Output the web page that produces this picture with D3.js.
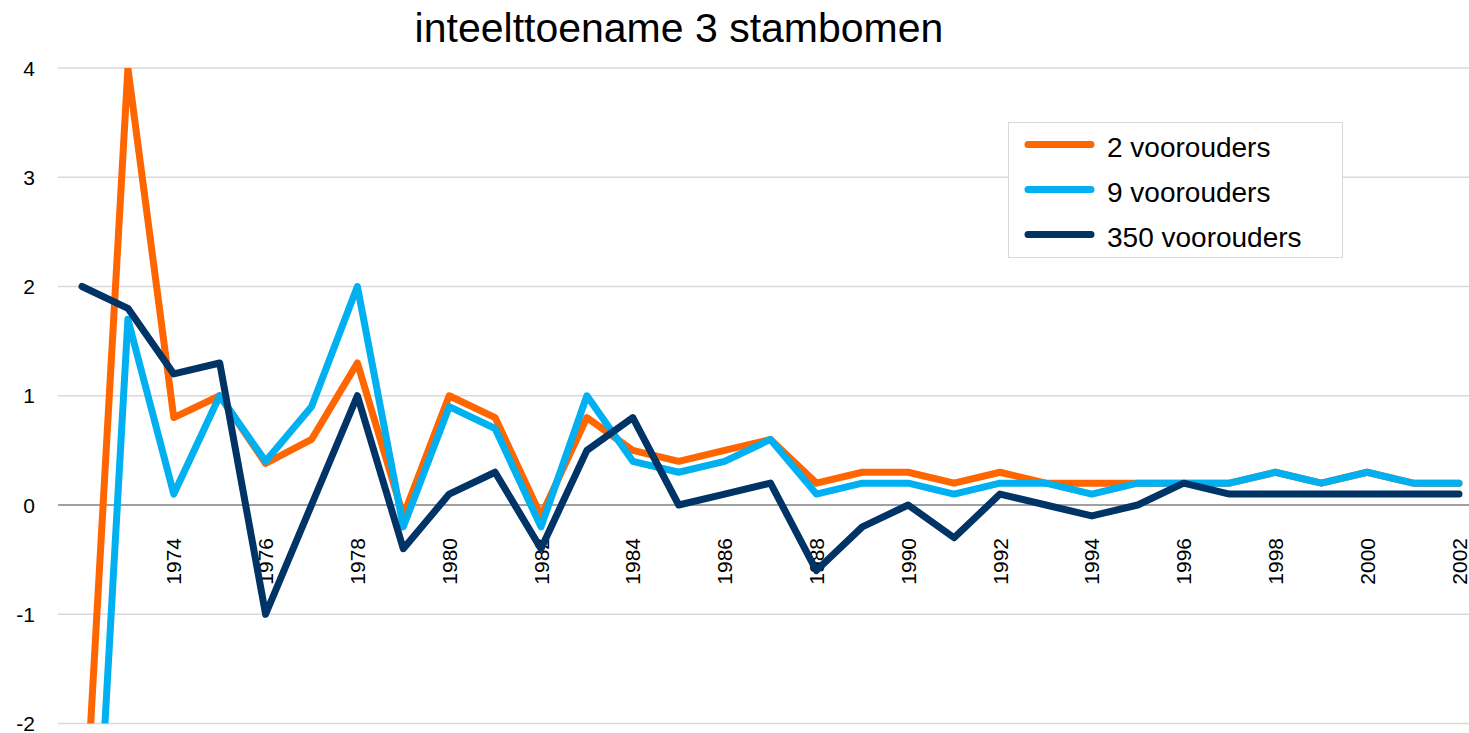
<!DOCTYPE html>
<html>
<head>
<meta charset="utf-8">
<script src="https://cdn.jsdelivr.net/npm/d3@7"></script>
<style>
  body { margin: 0; background: #fff; }
  text { font-family: "Liberation Sans", Arial, sans-serif; fill: #000; }
</style>
</head>
<body>
<div id="chart"></div>
<script>
// years on the category axis
const years = d3.range(1972, 2003).map(String);

// series values
const twoAncestors = [-3.4, 4.0, 0.8, 1.0, 0.38, 0.6, 1.3, -0.1, 1.0, 0.8, -0.1, 0.8, 0.5, 0.4, 0.5, 0.6,
  0.2, 0.3, 0.3, 0.2, 0.3, 0.2, 0.2, 0.2, 0.2, 0.2, 0.3, 0.2, 0.3, 0.2, 0.2];
const nineAncestors = [-5.7, 1.7, 0.1, 1.0, 0.4, 0.9, 2.0, -0.2, 0.9, 0.7, -0.2, 1.0, 0.4, 0.3, 0.4, 0.6,
  0.1, 0.2, 0.2, 0.1, 0.2, 0.2, 0.1, 0.2, 0.2, 0.2, 0.3, 0.2, 0.3, 0.2, 0.2];
const manyAncestors = [2.0, 1.8, 1.2, 1.3, -1.0, 0.0, 1.0, -0.4, 0.1, 0.3, -0.4, 0.5, 0.8, 0.0, 0.1, 0.2,
  -0.6, -0.2, 0.0, -0.3, 0.1, 0.0, -0.1, 0.0, 0.2, 0.1, 0.1, 0.1, 0.1, 0.1, 0.1];

const seriesNames = ["2 voorouders", "9 voorouders", "350 voorouders"];
const seriesColors = ["#ff6600", "#00b0f0", "#003366"];
const yTicks = [-2, -1, 0, 1, 2, 3, 4];
const xTickLabels = years.filter(y => +y >= 1974 && (+y) % 2 === 0);

const series = [twoAncestors, nineAncestors, manyAncestors];

const width = 1469;
const height = 733;

const svg = d3.select("#chart")
  .append("svg")
  .attr("width", width)
  .attr("height", height);

const x = d3.scalePoint()
  .domain(years)
  .range([82, 1459]);

const y = d3.scaleLinear()
  .domain([-2, 4])
  .range([723.5, 68]);

// title
svg.append("text")
  .attr("x", 679)
  .attr("y", 42)
  .attr("text-anchor", "middle")
  .style("font-size", "41px")
  .text("inteelttoename 3 stambomen");

// gridlines
svg.append("g")
  .selectAll("line")
  .data(yTicks)
  .enter()
  .append("line")
  .attr("x1", 58)
  .attr("x2", width)
  .attr("y1", d => y(d))
  .attr("y2", d => y(d))
  .attr("stroke", d => d === 0 ? "#808080" : "#d9d9d9")
  .attr("stroke-width", 1.5);

// y labels
svg.append("g")
  .selectAll("text")
  .data(yTicks)
  .enter()
  .append("text")
  .attr("x", 35)
  .attr("y", d => y(d))
  .attr("dy", "0.36em")
  .attr("text-anchor", "end")
  .style("font-size", "21px")
  .text(d => d);

// x labels, rotated, hanging under the zero line
svg.append("g")
  .selectAll("text")
  .data(xTickLabels)
  .enter()
  .append("text")
  .attr("transform", d => `translate(${x(d)}, ${y(0) + 33}) rotate(-90)`)
  .attr("dy", "0.36em")
  .attr("text-anchor", "end")
  .style("font-size", "21px")
  .text(d => d);

// clip to plot area
svg.append("clipPath")
  .attr("id", "plot-clip")
  .append("rect")
  .attr("x", 0)
  .attr("y", y(4))
  .attr("width", width)
  .attr("height", y(-2) - y(4));

const line = d3.line()
  .x((d, i) => x(years[i]))
  .y(d => y(d));

svg.append("g")
  .attr("clip-path", "url(#plot-clip)")
  .selectAll("path")
  .data(series)
  .enter()
  .append("path")
  .attr("d", line)
  .attr("fill", "none")
  .attr("stroke", (d, i) => seriesColors[i])
  .attr("stroke-width", 7)
  .attr("stroke-linejoin", "round")
  .attr("stroke-linecap", "round");

// legend
const legend = svg.append("g");
legend.append("rect")
  .attr("x", 1008.5)
  .attr("y", 122.5)
  .attr("width", 334)
  .attr("height", 135)
  .attr("fill", "#fff")
  .attr("stroke", "#d9d9d9")
  .attr("stroke-width", 1);

const items = legend.selectAll("g.item")
  .data(seriesNames)
  .enter()
  .append("g")
  .attr("class", "item")
  .attr("transform", (d, i) => `translate(0, ${144.5 + i * 45})`);

items.append("line")
  .attr("x1", 1028)
  .attr("x2", 1091)
  .attr("stroke", (d, i) => seriesColors[i])
  .attr("stroke-width", 7)
  .attr("stroke-linecap", "round");

items.append("text")
  .attr("x", 1107)
  .attr("y", 2)
  .attr("dy", "0.36em")
  .style("font-size", "28px")
  .text(d => d);
</script>
</body>
</html>
